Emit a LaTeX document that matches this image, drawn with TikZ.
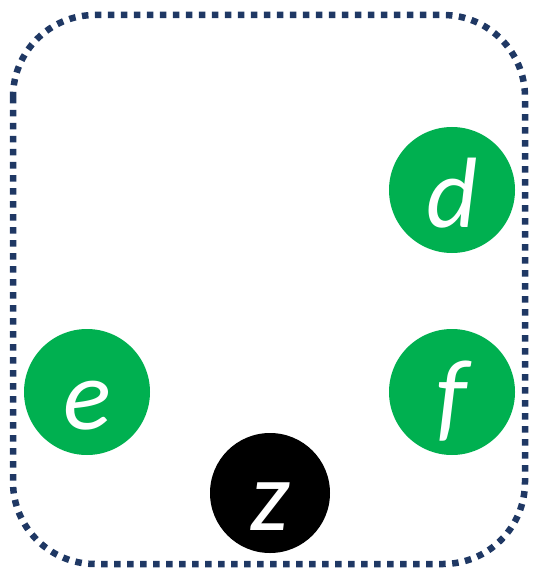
\documentclass[tikz,border=0pt]{standalone}
\usepackage{fontspec}
\setmainfont{Carlito}
\usepackage{xcolor}
\usetikzlibrary{positioning}
\definecolor{vgreen}{HTML}{00B050}
\definecolor{frame}{HTML}{1F3864}
\tikzset{
  vert/.style={circle, fill=vgreen, minimum size=126pt, inner sep=0pt,
    text height=74pt, text depth=0pt,
    text=white, font=\fontsize{100}{104}\selectfont\itshape},
  root/.style={vert, fill=black, minimum size=120pt},
  boundary/.style={draw=frame, line width=6.5pt, dash pattern=on 6.5pt off 6.5pt,
    rounded corners=82pt}
}
\begin{document}
\begin{tikzpicture}[x=1pt,y=-1pt]
  \useasboundingbox (0,0) rectangle (537,572);
  % region
  \draw[boundary] (13,15) rectangle (525,564);

  % vertices
  \node[vert] (d) at (452,190) {d};
  \node[vert] (e) at (87,392) {e};
  \node[vert] (f) at (452,392) {f};
  \node[root] (z) at (270,493) {z};
\end{tikzpicture}
\end{document}
